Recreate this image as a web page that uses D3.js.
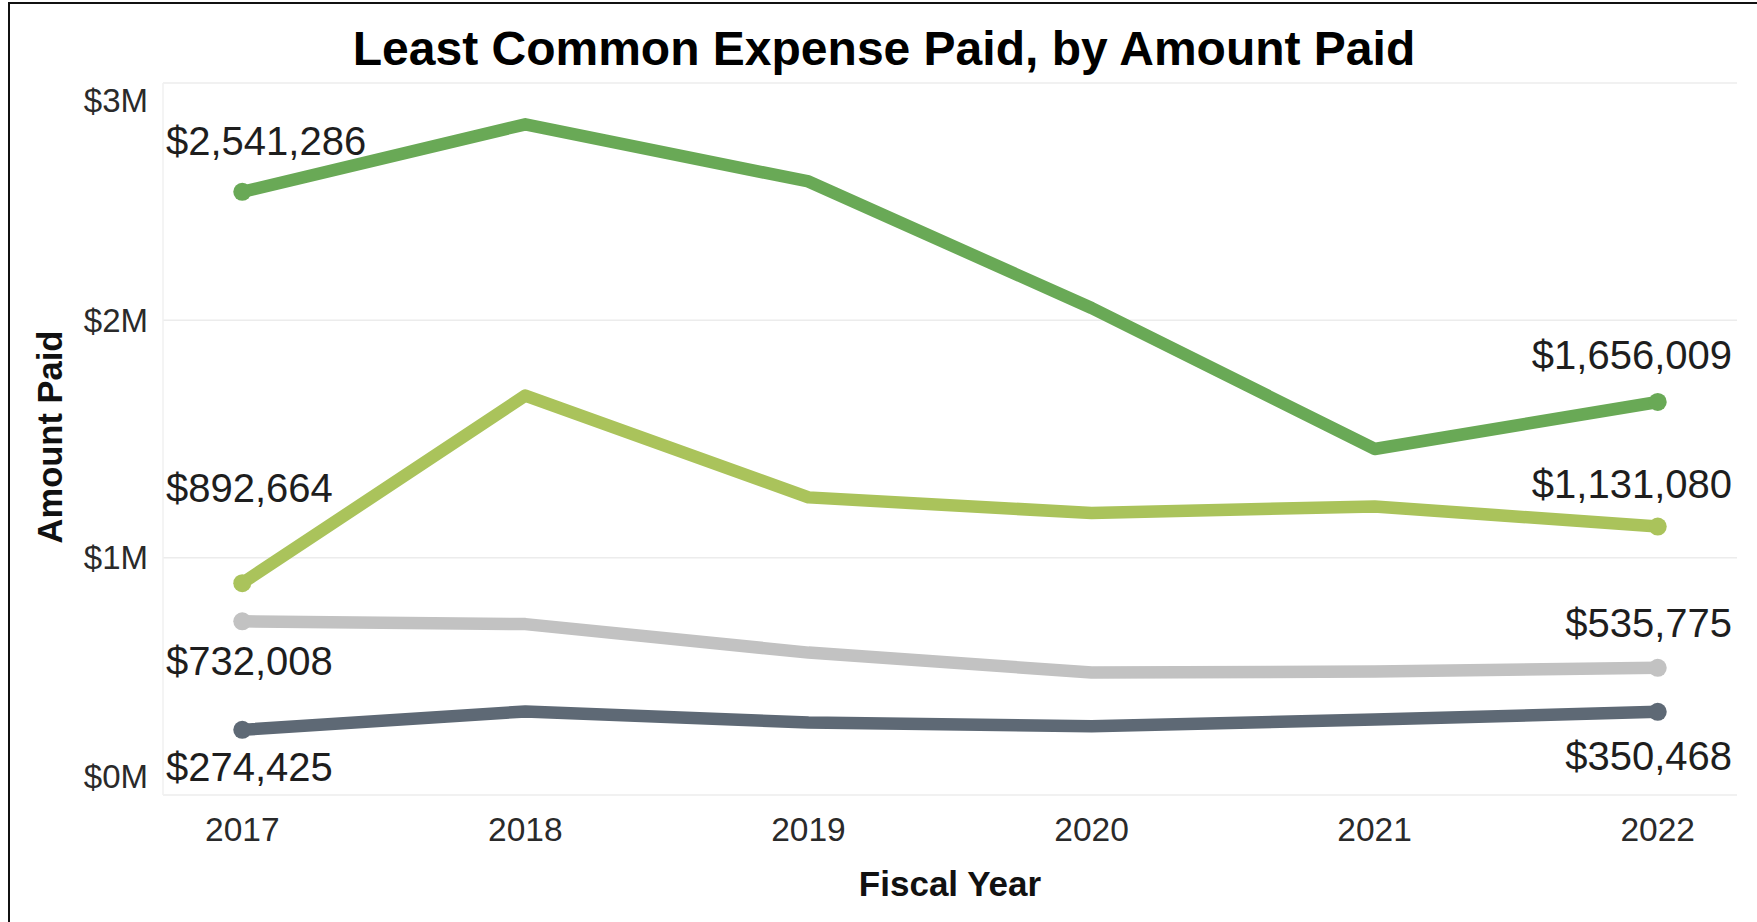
<!DOCTYPE html>
<html>
<head>
<meta charset="utf-8">
<script src="https://cdn.jsdelivr.net/npm/d3@7"></script>
<style>
  html, body { margin: 0; padding: 0; background: #fff; }
  svg { display: block; }
  text { font-family: "Liberation Sans", Arial, sans-serif; }
</style>
</head>
<body>
<svg id="chart" width="1757" height="922"></svg>
<script>
// ---------- data ----------
const years = ["2017", "2018", "2019", "2020", "2021", "2022"];
const seriesNames = ["Expense A", "Expense B", "Expense C", "Expense D"];
const expenseA = [2541286, 2826000, 2585000, 2052000, 1458000, 1656009];
const expenseB = [892664, 1683000, 1254000, 1188000, 1216000, 1131080];
const expenseC = [732008, 720000, 600000, 516000, 520000, 535775];
const expenseD = [274425, 352000, 305000, 290000, 318000, 350468];
const yTicks = [0, 1000000, 2000000, 3000000];
const yTickLabels = ["$0M", "$1M", "$2M", "$3M"];

const titleText = "Least Common Expense Paid, by Amount Paid";
const xTitle = "Fiscal Year";
const yTitle = "Amount Paid";

// ---------- styling / layout ----------
const colors = ["#69a956", "#aac35b", "#c2c2c2", "#5e6975"];
// label vertical offsets (first point, last point) relative to the point
const labelOffsets = [[-51, -47], [-95, -43], [40, -45], [37, 44]];

const W = 1757, H = 922;
const plot = { left: 163, right: 1737, top: 83, bottom: 795 };

const svg = d3.select("#chart");

// frame (top + left border visible)
svg.append("rect")
  .attr("x", 9).attr("y", 3)
  .attr("width", W + 20).attr("height", H + 20)
  .attr("fill", "#fff").attr("stroke", "#111").attr("stroke-width", 2);

const x = d3.scalePoint().domain(years).range([plot.left, plot.right]).padding(0.28);
const y = d3.scaleLinear().domain([0, 3000000]).range([plot.bottom, plot.top]);

// gridlines
svg.append("g").selectAll("line").data(yTicks).join("line")
  .attr("x1", plot.left).attr("x2", plot.right)
  .attr("y1", d => y(d)).attr("y2", d => y(d))
  .attr("stroke", "#ececec").attr("stroke-width", 1.5);
// left pane edge
svg.append("line")
  .attr("x1", plot.left).attr("x2", plot.left)
  .attr("y1", plot.top).attr("y2", plot.bottom)
  .attr("stroke", "#f0f0f0").attr("stroke-width", 1.5);

// y tick labels
svg.append("g").selectAll("text").data(yTicks).join("text")
  .attr("x", plot.left - 15)
  .attr("y", d => Math.min(Math.max(y(d), plot.top + 17), plot.bottom - 19))
  .attr("text-anchor", "end")
  .attr("dominant-baseline", "central")
  .attr("font-size", 33)
  .attr("fill", "#2a2a2a")
  .text((d, i) => yTickLabels[i]);

// x tick labels
svg.append("g").selectAll("text").data(years).join("text")
  .attr("x", d => x(d))
  .attr("y", 829)
  .attr("text-anchor", "middle")
  .attr("dominant-baseline", "central")
  .attr("font-size", 33.5)
  .attr("fill", "#2a2a2a")
  .text(d => d);

// axis titles
svg.append("text")
  .attr("x", (plot.left + plot.right) / 2)
  .attr("y", 883)
  .attr("text-anchor", "middle")
  .attr("dominant-baseline", "central")
  .attr("font-size", 35)
  .attr("font-weight", "bold")
  .attr("fill", "#111")
  .text(xTitle);

svg.append("text")
  .attr("transform", `translate(50,${(plot.top + plot.bottom) / 2 - 2}) rotate(-90)`)
  .attr("text-anchor", "middle")
  .attr("dominant-baseline", "central")
  .attr("font-size", 34.5)
  .attr("font-weight", "bold")
  .attr("fill", "#111")
  .text(yTitle);

// title
svg.append("text")
  .attr("x", 884)
  .attr("y", 48)
  .attr("text-anchor", "middle")
  .attr("dominant-baseline", "central")
  .attr("font-size", 48)
  .attr("font-weight", "bold")
  .attr("fill", "#000")
  .text(titleText);

// series
const allSeries = [expenseA, expenseB, expenseC, expenseD].map((vals, i) => ({
  name: seriesNames[i],
  color: colors[i],
  values: vals.map((v, j) => ({ year: years[j], value: v }))
}));

const line = d3.line().x(d => x(d.year)).y(d => y(d.value));

// draw from bottom-most to top so greens sit on top
const order = [3, 2, 1, 0];
order.forEach(i => {
  const s = allSeries[i];
  svg.append("path")
    .datum(s.values)
    .attr("d", line)
    .attr("fill", "none")
    .attr("stroke", s.color)
    .attr("stroke-width", 12.5)
    .attr("stroke-linejoin", "round")
    .attr("stroke-linecap", "round");
  const ends = [s.values[0], s.values[s.values.length - 1]];
  svg.append("g").selectAll("circle").data(ends).join("circle")
    .attr("cx", d => x(d.year))
    .attr("cy", d => y(d.value))
    .attr("r", 9)
    .attr("fill", s.color);
});

// value labels at ends
const fmt = d3.format("$,");
allSeries.forEach((s, i) => {
  const first = s.values[0], last = s.values[s.values.length - 1];
  svg.append("text")
    .attr("x", plot.left + 3)
    .attr("y", y(first.value) + labelOffsets[i][0])
    .attr("text-anchor", "start")
    .attr("dominant-baseline", "central")
    .attr("font-size", 40)
    .attr("fill", "#1e1e1e")
    .text(fmt(first.value));
  svg.append("text")
    .attr("x", plot.right - 5)
    .attr("y", y(last.value) + labelOffsets[i][1])
    .attr("text-anchor", "end")
    .attr("dominant-baseline", "central")
    .attr("font-size", 40)
    .attr("fill", "#1e1e1e")
    .text(fmt(last.value));
});
</script>
</body>
</html>
